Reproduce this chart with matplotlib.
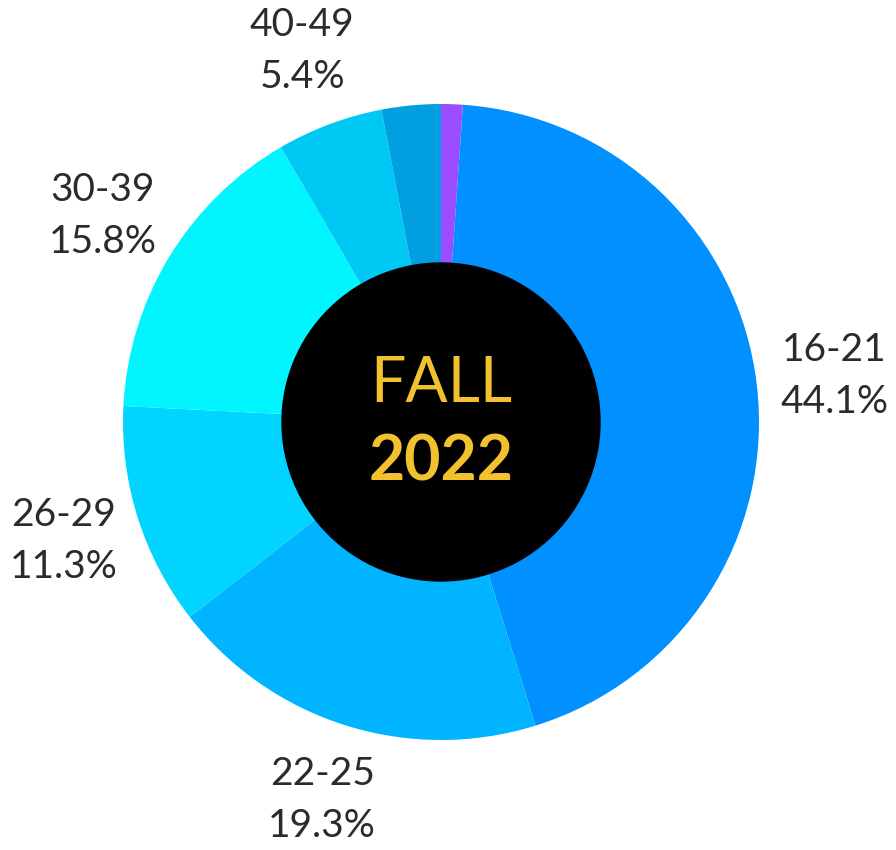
"""
Fall 2022 enrolment by age group - donut chart
"""
import numpy as np
import matplotlib.pyplot as plt
from matplotlib.patches import Circle

plt.rcParams['font.family'] = ['Lato', 'DejaVu Sans']

# Data, clockwise from 12 o'clock
groups = ['Under 16', '16-21', '22-25', '26-29', '30-39', '40-49', '50+']
shares = [1.1, 44.1, 19.3, 11.3, 15.8, 5.4, 3.0]
show_label = [False, True, True, True, True, True, False]
colors = ['#9b4dff', '#0090ff', '#00b4ff', '#00d4ff', '#00f5ff',
          '#00c8f5', '#00a0e0']

fig = plt.figure(figsize=(8.96, 8.5), dpi=100)
ax = fig.add_axes([0, 0, 1, 1])

wedges, _ = ax.pie(shares, colors=colors, startangle=90, counterclock=False,
                   radius=1.0, wedgeprops=dict(width=0.5, linewidth=0))

# pixel placement of the ring: centre (441, 422), outer radius 318 px
r_px = 318
ax.set_xlim(-441 / r_px, (896 - 441) / r_px)
ax.set_ylim(-(850 - 422) / r_px, 422 / r_px)
ax.set_aspect('equal')
ax.axis('off')

ax.add_patch(Circle((0, 0), 0.5, color='black', zorder=3))

# Outside labels at each wedge's mid angle
for w, name, pct, show in zip(wedges, groups, shares, show_label):
    if not show:
        continue
    mid = np.deg2rad((w.theta1 + w.theta2) / 2)
    x, y = 1.245 * np.cos(mid), 1.245 * np.sin(mid)
    ax.text(x, y, f'{name}\n{pct}%', ha='center', va='center',
            fontsize=28, color='#2b2b2b', linespacing=1.55)

ax.text(0, 38 / r_px, 'FALL', ha='center', va='center', fontsize=45,
        color='#f2c12e', zorder=4)
ax.text(0, -40 / r_px, '2022', ha='center', va='center', fontsize=45,
        fontweight='bold', color='#f2c12e', zorder=4)

fig.savefig('out.png', dpi=100)
